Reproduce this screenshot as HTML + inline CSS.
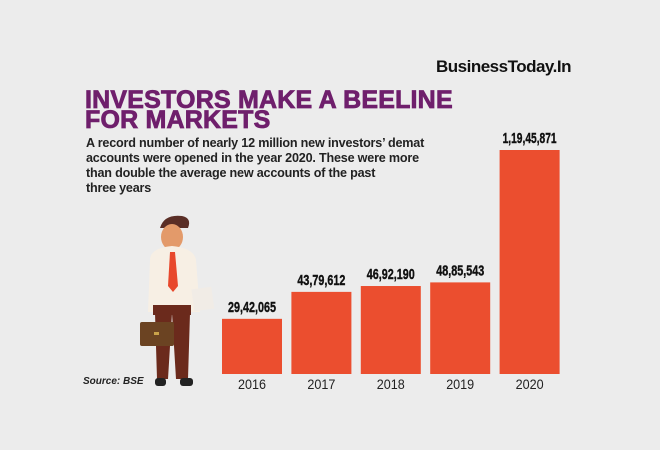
<!DOCTYPE html>
<html><head><meta charset="utf-8"><style>
body{margin:0;background:#ececec;}
#c{position:relative;width:660px;height:450px;background:#ececec;overflow:hidden;font-family:"Liberation Sans",sans-serif;}
.t{position:absolute;white-space:nowrap;}
</style></head><body>
<div id="c">
<div class="t" style="left:436px;top:57px;font-size:17px;font-weight:bold;letter-spacing:-0.5px;color:#111;">BusinessToday.In</div>
<div class="t" style="left:85px;top:90px;font-size:25px;line-height:20px;font-weight:900;color:#6f1f6c;letter-spacing:0.2px;-webkit-text-stroke:0.8px #6f1f6c;">INVESTORS MAKE A BEELINE<br>FOR MARKETS</div>
<div class="t" style="left:86px;top:136px;font-size:12.6px;line-height:15px;font-weight:bold;color:#222;letter-spacing:-0.2px;">A record number of nearly 12 million new investors’ demat<br>accounts were opened in the year 2020. These were more<br>than double the average new accounts of the past<br>three years</div>
<div class="t" style="left:83px;top:376px;font-size:10px;font-style:italic;font-weight:bold;color:#222;">Source: BSE</div>
<svg style="position:absolute;left:0;top:0" width="660" height="450">
<path d="M160 228 q4-14 22-12 q10 2 6 12 z" fill="#5a2e26"/>
<ellipse cx="172" cy="237" rx="11" ry="13" fill="#e39a6a"/>
<path d="M150 260 q0-12 22-14 q22 2 24 14 l4 52 h-52 z" fill="#f7efe4"/>
<path d="M170 252 h5 l3 34 l-5 6 l-5-6 z" fill="#e8482c"/>
<rect x="153" y="305" width="38" height="10" fill="#6b2a1c"/>
<path d="M155 313 h17 l-4 66 h-11 z M172 313 h18 l-2 66 h-12 z" fill="#6b2a1c"/>
<rect x="155" y="378" width="11" height="8" rx="3" fill="#222"/>
<rect x="180" y="378" width="13" height="8" rx="3" fill="#222"/>
<rect x="193" y="288" width="20" height="22" fill="#f1ece6" transform="rotate(-8 203 300)"/>
<rect x="140" y="322" width="34" height="24" rx="2" fill="#6b4322"/>
<rect x="154" y="332" width="5" height="3" fill="#c9a24a"/>
</svg>
<svg id="chart" style="position:absolute;left:0;top:0" width="660" height="450"></svg>
</div>
<script>
const categories=["2016","2017","2018","2019","2020"];
const values=[2942065,4379612,4692190,4885543,11945871];
const labels=["29,42,065","43,79,612","46,92,190","48,85,543","1,19,45,871"];
const NS="http://www.w3.org/2000/svg";
const svg=document.getElementById("chart");
const base=374,maxH=224,maxV=11945871;
function y(v){return base-v/maxV*maxH;}
function x(i){return 222+i*69.4;}
const bw=60;
categories.forEach((c,i)=>{
 const r=document.createElementNS(NS,"rect");
 
 
 r.setAttribute("x",x(i));r.setAttribute("y",y(values[i]));
 r.setAttribute("width",bw);r.setAttribute("height",base-y(values[i]));
 r.setAttribute("fill","#eb4e2f");svg.appendChild(r);
 const t=document.createElementNS(NS,"text");
 
 
 t.setAttribute("x",x(i)+bw/2);t.setAttribute("y",y(values[i])-7);
 t.setAttribute("text-anchor","middle");t.setAttribute("font-size","15");t.setAttribute("font-weight","bold");
 t.setAttribute("fill","#111");t.setAttribute("stroke","#111");t.setAttribute("stroke-width","0.4");
 t.setAttribute("font-family","Liberation Sans Narrow, Liberation Sans, sans-serif");
 t.setAttribute("textLength",labels[i].length>9?54:48);t.setAttribute("lengthAdjust","spacingAndGlyphs");
 t.textContent=labels[i];svg.appendChild(t);
 const a=document.createElementNS(NS,"text");
 
 
 a.setAttribute("x",x(i)+bw/2);a.setAttribute("y",389);
 a.setAttribute("text-anchor","middle");a.setAttribute("font-size","14");
 a.setAttribute("fill","#222");a.setAttribute("font-family","Liberation Sans Narrow, Liberation Sans, sans-serif");
 a.setAttribute("textLength",28);a.setAttribute("lengthAdjust","spacingAndGlyphs");
 a.textContent=c;svg.appendChild(a);
});
</script>
</body></html>
